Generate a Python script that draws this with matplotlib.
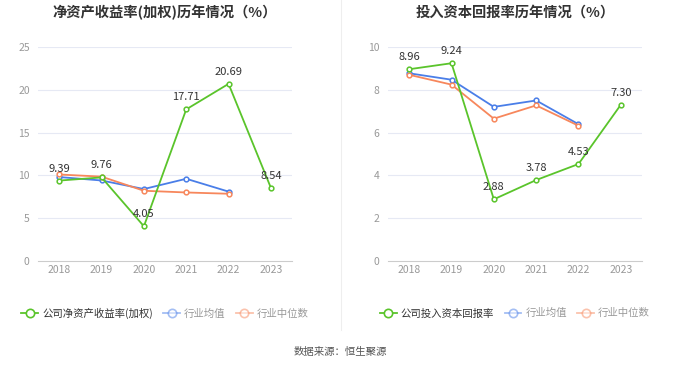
#!/usr/bin/env python

import matplotlib
matplotlib.use('Agg')
import matplotlib.pyplot as plt
from matplotlib.lines import Line2D

plt.rcParams['font.family'] = ['Noto Sans CJK SC', 'DejaVu Sans']

years = ['2018', '2019', '2020', '2021', '2022', '2023']

# left chart: ROE (weighted)
roe_company = [9.39, 9.76, 4.05, 17.71, 20.69, 8.54]
roe_ind_avg = [9.8, 9.4, 8.4, 9.6, 8.1]
roe_ind_med = [10.1, 9.85, 8.2, 8.0, 7.85]

# right chart: ROIC
roic_company = [8.96, 9.24, 2.88, 3.78, 4.53, 7.30]
roic_ind_avg = [8.77, 8.47, 7.2, 7.5, 6.39]
roic_ind_med = [8.7, 8.24, 6.65, 7.27, 6.32]

green = '#5ac42b'
blue = '#4a7ee8'
orange = '#f7875c'

fig = plt.figure(figsize=(6.8, 3.67), dpi=100)

def draw(ax, comp, avg, med, title, ylim, yticks, comp_name):
    x = list(range(len(years)))
    for yv in yticks[1:]:
        ax.axhline(yv, color='#e6e9f4', lw=0.8, zorder=0)
    ax.plot(x[:len(avg)], avg, color=blue, lw=1.3, marker='o', ms=3.4,
            mfc='white', mew=1.1, zorder=3)
    ax.plot(x[:len(med)], med, color=orange, lw=1.3, marker='o', ms=3.4,
            mfc='white', mew=1.1, zorder=3)
    ax.plot(x, comp, color=green, lw=1.3, marker='o', ms=3.4,
            mfc='white', mew=1.1, zorder=4)
    for i, v in enumerate(comp):
        ax.annotate('%.2f' % v, (i, v), xytext=(0, 5), textcoords='offset points',
                    ha='center', va='bottom', fontsize=8, color='#333333', zorder=5)
    ax.set_xlim(-0.5, len(years) - 0.5)
    ax.set_ylim(*ylim)
    ax.set_xticks(x)
    ax.set_xticklabels(years)
    ax.set_yticks(yticks)
    ax.tick_params(axis='both', colors='#999999', labelsize=7.5, length=0, pad=6)
    ax.tick_params(axis='x', length=0, pad=3)
    for s in ['top', 'right', 'left']:
        ax.spines[s].set_visible(False)
    ax.spines['bottom'].set_color('#cccccc')
    ax.set_title(title, fontsize=10.3, fontweight='bold', color='#333333', pad=0, y=1.14)

    handles = [
        Line2D([], [], color=green, lw=1.3, marker='o', ms=6, mfc='white', mew=1.2),
        Line2D([], [], color=blue, lw=1.3, marker='o', ms=6, mfc='white', mew=1.2, alpha=0.5),
        Line2D([], [], color=orange, lw=1.3, marker='o', ms=6, mfc='white', mew=1.2, alpha=0.5),
    ]
    leg = ax.legend(handles, [comp_name, '行业均值', '行业中位数'], loc='center',
                    bbox_to_anchor=(0.5, -0.245), ncol=3, frameon=False, fontsize=7.5,
                    handlelength=1.6, handletextpad=0.4, columnspacing=1.0)
    cols = ['#333333', '#999999', '#999999']
    for t, c in zip(leg.get_texts(), cols):
        t.set_color(c)

ax1 = fig.add_axes([0.056, 0.289, 0.3735, 0.583])
draw(ax1, roe_company, roe_ind_avg, roe_ind_med, '净资产收益率(加权)历年情况（%）',
     (0, 25), [0, 5, 10, 15, 20, 25], '公司净资产收益率(加权)')

ax2 = fig.add_axes([0.5706, 0.289, 0.3735, 0.583])
draw(ax2, roic_company, roic_ind_avg, roic_ind_med, '投入资本回报率历年情况（%）',
     (0, 10), [0, 2, 4, 6, 8, 10], '公司投入资本回报率')

# divider between the two charts
fig.add_artist(Line2D([0.5015, 0.5015], [0.1, 1.0], color='#eeeeee', lw=0.8))

fig.text(0.5, 0.04, '数据来源：恒生聚源', ha='center', va='center', fontsize=7.5, color='#555555')

fig.savefig('out.png', dpi=100)
